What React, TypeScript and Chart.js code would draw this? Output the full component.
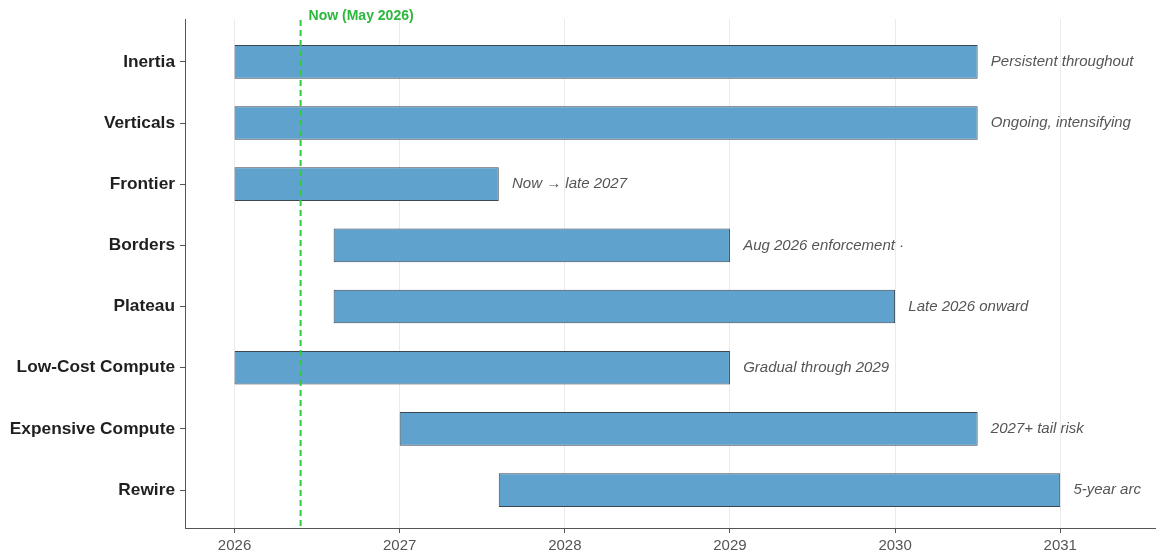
import React, { useEffect, useRef } from "react";
import { Chart, registerables } from "chart.js";

Chart.register(...registerables);

const categories = [
  "Inertia",
  "Verticals",
  "Frontier",
  "Borders",
  "Plateau",
  "Low-Cost Compute",
  "Expensive Compute",
  "Rewire",
];
const starts = [2026, 2026, 2026, 2026.6, 2026.6, 2026, 2027, 2027.6];
const ends = [2030.5, 2030.5, 2027.6, 2029, 2030, 2029, 2030.5, 2031];
const notes = [
  "Persistent throughout",
  "Ongoing, intensifying",
  "Now → late 2027",
  "Aug 2026 enforcement ·",
  "Late 2026 onward",
  "Gradual through 2029",
  "2027+ tail risk",
  "5-year arc",
];
const yearTicks = [2026, 2027, 2028, 2029, 2030, 2031];
const nowValue = 2026.4;
const nowLabel = "Now (May 2026)";

const FONT = "'Liberation Sans', Arial, sans-serif";

export default function App() {
  const ref = useRef<HTMLCanvasElement | null>(null);

  useEffect(() => {
    document.body.style.margin = "0";
    const canvas = ref.current;
    if (!canvas) return;

    const overlay = {
      id: "overlay",
      afterDatasetsDraw(chart: any) {
        const { ctx, chartArea, scales } = chart;
        const xs = scales.x;
        const ys = scales.y;
        ctx.save();
        ctx.font = `italic 15px ${FONT}`;
        ctx.fillStyle = "#555555";
        ctx.textAlign = "left";
        ctx.textBaseline = "middle";
        notes.forEach((t, i) => {
          const x = xs.getPixelForValue(ends[i] + 0.08);
          const y = ys.getPixelForValue(i);
          ctx.fillText(t, x, y);
        });
        const nx = xs.getPixelForValue(nowValue);
        ctx.strokeStyle = "#2ecc40";
        ctx.lineWidth = 2;
        ctx.setLineDash([6, 4]);
        ctx.beginPath();
        ctx.moveTo(nx, chartArea.top + 1);
        ctx.lineTo(nx, chartArea.bottom);
        ctx.stroke();
        ctx.setLineDash([]);
        ctx.font = `bold 14px ${FONT}`;
        ctx.fillStyle = "#2db83d";
        ctx.textBaseline = "middle";
        ctx.fillText(nowLabel, nx + 8, 16);
        ctx.restore();
      },
    };

    const chart = new Chart(canvas, {
      type: "bar",
      data: {
        datasets: [
          {
            data: categories.map((_, i) => ({ x: [starts[i], ends[i]], y: i })) as any,
            backgroundColor: "#5fa2cd",
            borderColor: "#3b4650",
            borderWidth: 1,
            borderSkipped: false,
            categoryPercentage: 1,
            barPercentage: 0.55,
          },
        ],
      },
      options: {
        indexAxis: "y",
        animation: false,
        responsive: false,
        layout: { padding: { top: 19, right: 0, left: 0, bottom: 0 } },
        plugins: { legend: { display: false }, tooltip: { enabled: false } },
        scales: {
          x: {
            type: "linear",
            min: 2025.7,
            max: 2031.58,
            offset: false,
            afterBuildTicks: (axis: any) => {
              axis.ticks = yearTicks.map((v) => ({ value: v }));
            },
            afterFit: (axis: any) => {
              axis.height = 29;
            },
            ticks: {
              callback: (v: any) => String(v),
              color: "#555555",
              font: { family: FONT, size: 15 },
              padding: 4,
              maxRotation: 0,
            },
            grid: {
              offset: false,
              color: "#ebebeb",
              tickColor: "#555555",
              tickLength: 5,
              lineWidth: 1,
            },
            border: { color: "#555555", width: 1 },
          },
          y: {
            type: "linear",
            reverse: true,
            min: -0.7,
            max: 7.62,
            offset: false,
            afterBuildTicks: (axis: any) => {
              axis.ticks = categories.map((_, i) => ({ value: i }));
            },
            afterFit: (axis: any) => {
              axis.width = 185;
            },
            ticks: {
              callback: (v: any) => categories[v] ?? "",
              color: "#1f1f1f",
              font: { family: FONT, size: 17.3, weight: "bold" },
              padding: 5,
            },
            grid: {
              offset: false,
              drawOnChartArea: false,
              tickColor: "#555555",
              tickLength: 5,
            },
            border: { color: "#555555", width: 1 },
          },
        },
      } as any,
      plugins: [overlay],
    });

    return () => chart.destroy();
  }, []);

  return (
    <div style={{ width: 1156, height: 557, background: "#ffffff" }}>
      <canvas ref={ref} width={1156} height={557} />
    </div>
  );
}
